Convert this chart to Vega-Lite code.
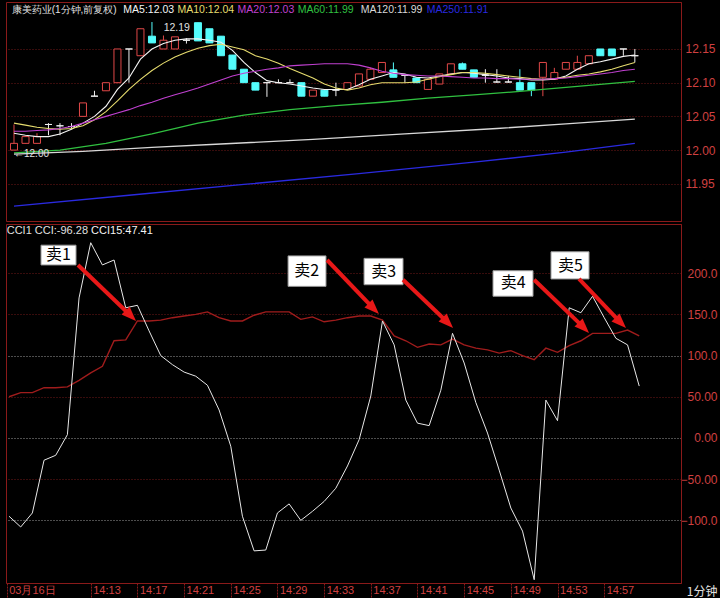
{
 "$schema": "https://vega.github.io/schema/vega-lite/v6.json",
 "background": "#000000",
 "padding": {"left": 5, "top": 1, "right": 2, "bottom": 0},
 "config": {"view": {"stroke": "#8a1a1a"}, "font": "Liberation Sans"},
 "spacing": 1,
 "datasets": {
  "bars": [
   {"t":6,"open":12.00,"high":12.038,"low":12.00,"close":12.01,"ma5":12.025,"ma10":12.04,"ma20":12.028,"cci":-95,"ccima":50},
   {"t":7,"open":12.01,"high":12.02,"low":12.01,"close":12.02,"ma5":12.022,"ma10":12.037,"ma20":12.028,"cci":-108,"ccima":55},
   {"t":8,"open":12.01,"high":12.025,"low":12.01,"close":12.02,"ma5":12.02,"ma10":12.034,"ma20":12.029,"cci":-91,"ccima":55},
   {"t":9,"open":12.038,"high":12.04,"low":12.022,"close":12.038,"ma5":12.02,"ma10":12.032,"ma20":12.03,"cci":-27,"ccima":61},
   {"t":10,"open":12.036,"high":12.04,"low":12.022,"close":12.036,"ma5":12.024,"ma10":12.031,"ma20":12.032,"cci":-21,"ccima":61},
   {"t":11,"open":12.035,"high":12.04,"low":12.031,"close":12.035,"ma5":12.031,"ma10":12.032,"ma20":12.035,"cci":4,"ccima":62},
   {"t":12,"open":12.05,"high":12.07,"low":12.05,"close":12.07,"ma5":12.04,"ma10":12.036,"ma20":12.04,"cci":170,"ccima":70},
   {"t":13,"open":12.08,"high":12.088,"low":12.08,"close":12.08,"ma5":12.05,"ma10":12.045,"ma20":12.045,"cci":237,"ccima":79},
   {"t":14,"open":12.088,"high":12.10,"low":12.088,"close":12.10,"ma5":12.065,"ma10":12.057,"ma20":12.05,"cci":210,"ccima":87},
   {"t":15,"open":12.10,"high":12.15,"low":12.10,"close":12.15,"ma5":12.09,"ma10":12.073,"ma20":12.055,"cci":216,"ccima":118},
   {"t":16,"open":12.15,"high":12.15,"low":12.10,"close":12.15,"ma5":12.107,"ma10":12.09,"ma20":12.06,"cci":158,"ccima":119},
   {"t":17,"open":12.14,"high":12.18,"low":12.14,"close":12.18,"ma5":12.135,"ma10":12.105,"ma20":12.066,"cci":161,"ccima":142},
   {"t":18,"open":12.169,"high":12.19,"low":12.159,"close":12.159,"ma5":12.15,"ma10":12.118,"ma20":12.071,"cci":130,"ccima":142},
   {"t":19,"open":12.15,"high":12.17,"low":12.15,"close":12.163,"ma5":12.158,"ma10":12.129,"ma20":12.077,"cci":100,"ccima":143},
   {"t":20,"open":12.15,"high":12.168,"low":12.15,"close":12.168,"ma5":12.163,"ma10":12.138,"ma20":12.082,"cci":89,"ccima":146},
   {"t":21,"open":12.163,"high":12.166,"low":12.158,"close":12.163,"ma5":12.165,"ma10":12.145,"ma20":12.087,"cci":80,"ccima":148},
   {"t":22,"open":12.189,"high":12.189,"low":12.162,"close":12.162,"ma5":12.165,"ma10":12.151,"ma20":12.092,"cci":75,"ccima":150},
   {"t":23,"open":12.18,"high":12.18,"low":12.159,"close":12.159,"ma5":12.163,"ma10":12.155,"ma20":12.098,"cci":64,"ccima":153},
   {"t":24,"open":12.169,"high":12.169,"low":12.14,"close":12.14,"ma5":12.16,"ma10":12.157,"ma20":12.104,"cci":34,"ccima":146},
   {"t":25,"open":12.141,"high":12.141,"low":12.12,"close":12.12,"ma5":12.148,"ma10":12.153,"ma20":12.11,"cci":-10,"ccima":142},
   {"t":26,"open":12.12,"high":12.12,"low":12.10,"close":12.10,"ma5":12.13,"ma10":12.149,"ma20":12.114,"cci":-95,"ccima":142},
   {"t":27,"open":12.10,"high":12.10,"low":12.089,"close":12.089,"ma5":12.115,"ma10":12.14,"ma20":12.117,"cci":-137,"ccima":149},
   {"t":28,"open":12.10,"high":12.10,"low":12.079,"close":12.10,"ma5":12.103,"ma10":12.135,"ma20":12.12,"cci":-136,"ccima":153},
   {"t":29,"open":12.10,"high":12.105,"low":12.10,"close":12.10,"ma5":12.10,"ma10":12.129,"ma20":12.122,"cci":-91,"ccima":153},
   {"t":30,"open":12.10,"high":12.105,"low":12.10,"close":12.10,"ma5":12.098,"ma10":12.121,"ma20":12.125,"cci":-80,"ccima":153},
   {"t":31,"open":12.10,"high":12.10,"low":12.08,"close":12.08,"ma5":12.095,"ma10":12.114,"ma20":12.126,"cci":-100,"ccima":144},
   {"t":32,"open":12.08,"high":12.089,"low":12.08,"close":12.089,"ma5":12.092,"ma10":12.107,"ma20":12.127,"cci":-89,"ccima":147},
   {"t":33,"open":12.089,"high":12.089,"low":12.08,"close":12.08,"ma5":12.09,"ma10":12.098,"ma20":12.128,"cci":-77,"ccima":141},
   {"t":34,"open":12.089,"high":12.10,"low":12.08,"close":12.089,"ma5":12.09,"ma10":12.092,"ma20":12.128,"cci":-61,"ccima":143},
   {"t":35,"open":12.09,"high":12.10,"low":12.09,"close":12.10,"ma5":12.09,"ma10":12.089,"ma20":12.128,"cci":-34,"ccima":146},
   {"t":36,"open":12.095,"high":12.113,"low":12.095,"close":12.113,"ma5":12.097,"ma10":12.092,"ma20":12.126,"cci":-2,"ccima":148},
   {"t":37,"open":12.105,"high":12.122,"low":12.105,"close":12.12,"ma5":12.105,"ma10":12.097,"ma20":12.122,"cci":51,"ccima":148},
   {"t":38,"open":12.115,"high":12.13,"low":12.115,"close":12.13,"ma5":12.11,"ma10":12.1,"ma20":12.117,"cci":142,"ccima":143},
   {"t":39,"open":12.119,"high":12.13,"low":12.108,"close":12.108,"ma5":12.115,"ma10":12.1,"ma20":12.114,"cci":113,"ccima":124},
   {"t":40,"open":12.111,"high":12.111,"low":12.10,"close":12.111,"ma5":12.113,"ma10":12.1,"ma20":12.112,"cci":46,"ccima":118},
   {"t":41,"open":12.107,"high":12.107,"low":12.10,"close":12.10,"ma5":12.108,"ma10":12.101,"ma20":12.111,"cci":18,"ccima":110},
   {"t":42,"open":12.09,"high":12.105,"low":12.09,"close":12.105,"ma5":12.107,"ma10":12.105,"ma20":12.11,"cci":15,"ccima":114},
   {"t":43,"open":12.098,"high":12.113,"low":12.098,"close":12.113,"ma5":12.11,"ma10":12.109,"ma20":12.11,"cci":58,"ccima":113},
   {"t":44,"open":12.113,"high":12.128,"low":12.113,"close":12.128,"ma5":12.113,"ma10":12.112,"ma20":12.109,"cci":127,"ccima":120},
   {"t":45,"open":12.128,"high":12.13,"low":12.12,"close":12.12,"ma5":12.115,"ma10":12.115,"ma20":12.108,"cci":91,"ccima":113},
   {"t":46,"open":12.119,"high":12.119,"low":12.108,"close":12.108,"ma5":12.114,"ma10":12.115,"ma20":12.107,"cci":43,"ccima":109},
   {"t":47,"open":12.111,"high":12.12,"low":12.10,"close":12.111,"ma5":12.112,"ma10":12.114,"ma20":12.107,"cci":6,"ccima":107},
   {"t":48,"open":12.101,"high":12.12,"low":12.10,"close":12.101,"ma5":12.11,"ma10":12.112,"ma20":12.106,"cci":-39,"ccima":103},
   {"t":49,"open":12.101,"high":12.11,"low":12.10,"close":12.101,"ma5":12.107,"ma10":12.11,"ma20":12.106,"cci":-85,"ccima":106},
   {"t":50,"open":12.10,"high":12.12,"low":12.089,"close":12.089,"ma5":12.106,"ma10":12.108,"ma20":12.105,"cci":-113,"ccima":100},
   {"t":51,"open":12.10,"high":12.10,"low":12.08,"close":12.089,"ma5":12.104,"ma10":12.106,"ma20":12.105,"cci":-172,"ccima":95},
   {"t":52,"open":12.108,"high":12.13,"low":12.08,"close":12.13,"ma5":12.104,"ma10":12.105,"ma20":12.105,"cci":46,"ccima":109},
   {"t":53,"open":12.105,"high":12.122,"low":12.105,"close":12.115,"ma5":12.105,"ma10":12.106,"ma20":12.106,"cci":21,"ccima":104},
   {"t":54,"open":12.12,"high":12.13,"low":12.12,"close":12.13,"ma5":12.11,"ma10":12.108,"ma20":12.107,"cci":158,"ccima":112},
   {"t":55,"open":12.12,"high":12.14,"low":12.12,"close":12.13,"ma5":12.12,"ma10":12.111,"ma20":12.109,"cci":152,"ccima":118},
   {"t":56,"open":12.128,"high":12.14,"low":12.128,"close":12.14,"ma5":12.128,"ma10":12.113,"ma20":12.111,"cci":172,"ccima":127},
   {"t":57,"open":12.15,"high":12.15,"low":12.14,"close":12.14,"ma5":12.131,"ma10":12.116,"ma20":12.113,"cci":146,"ccima":127},
   {"t":58,"open":12.15,"high":12.15,"low":12.14,"close":12.14,"ma5":12.135,"ma10":12.12,"ma20":12.115,"cci":121,"ccima":127},
   {"t":59,"open":12.15,"high":12.15,"low":12.14,"close":12.15,"ma5":12.139,"ma10":12.125,"ma20":12.118,"cci":113,"ccima":131},
   {"t":60,"open":12.14,"high":12.15,"low":12.13,"close":12.14,"ma5":12.141,"ma10":12.13,"ma20":12.12,"cci":63,"ccima":124}
  ],
  "slow": [
   {"t":6,"key":"ma60","v":11.996},{"t":10,"key":"ma60","v":12.0},{"t":14,"key":"ma60","v":12.01},{"t":18,"key":"ma60","v":12.024},{"t":22,"key":"ma60","v":12.04},{"t":26,"key":"ma60","v":12.052},{"t":30,"key":"ma60","v":12.06},{"t":34,"key":"ma60","v":12.066},{"t":38,"key":"ma60","v":12.071},{"t":42,"key":"ma60","v":12.077},{"t":46,"key":"ma60","v":12.082},{"t":50,"key":"ma60","v":12.087},{"t":54,"key":"ma60","v":12.093},{"t":58,"key":"ma60","v":12.099},{"t":60,"key":"ma60","v":12.102},
   {"t":6,"key":"ma120","v":11.994},{"t":12,"key":"ma120","v":11.998},{"t":18,"key":"ma120","v":12.004},{"t":24,"key":"ma120","v":12.009},{"t":32,"key":"ma120","v":12.016},{"t":40,"key":"ma120","v":12.024},{"t":48,"key":"ma120","v":12.032},{"t":54,"key":"ma120","v":12.039},{"t":60,"key":"ma120","v":12.046},
   {"t":6,"key":"ma250","v":11.917},{"t":16,"key":"ma250","v":11.933},{"t":26,"key":"ma250","v":11.949},{"t":36,"key":"ma250","v":11.965},{"t":46,"key":"ma250","v":11.982},{"t":54,"key":"ma250","v":11.997},{"t":60,"key":"ma250","v":12.01}
  ],
  "hdr1": [
   {"t":5.8,"v":12.2075,"text":"康美药业(1分钟,前复权)","key":"title"},
   {"t":15.51,"v":12.2075,"text":"MA5:12.03","key":"ma5"},
   {"t":20.22,"v":12.2075,"text":"MA10:12.04","key":"ma10"},
   {"t":25.45,"v":12.2075,"text":"MA20:12.03","key":"ma20"},
   {"t":30.68,"v":12.2075,"text":"MA60:11.99","key":"ma60"},
   {"t":36.16,"v":12.2075,"text":"MA120:11.99","key":"ma120"},
   {"t":41.9,"v":12.2075,"text":"MA250:11.91","key":"ma250"},
   {"t":19.02,"v":12.181,"text":"12.19","key":"title"},
   {"t":6.0,"v":11.994,"text":"←12.00","key":"title"}
  ],
  "hdr2": [
   {"t":5.8,"v":251,"text":"CCI1  CCI:-96.28","key":"cci"},
   {"t":13.03,"v":251,"text":"CCI15:47.41","key":"hdr"}
  ],
  "boxes": [
   {"label":"卖1","t1":8.74,"t2":11.74,"c1":210,"c2":234,"tc":10.24,"cc":222},
   {"label":"卖2","t1":29.91,"t2":33.16,"c1":184,"c2":221,"tc":31.5,"cc":203},
   {"label":"卖3","t1":36.42,"t2":39.76,"c1":186,"c2":218,"tc":38.1,"cc":202},
   {"label":"卖4","t1":47.47,"t2":50.9,"c1":172,"c2":203,"tc":49.2,"cc":188},
   {"label":"卖5","t1":52.44,"t2":55.7,"c1":193,"c2":226,"tc":54.1,"cc":209}
  ],
  "arrows": [
   {"t1":11.91,"c1":210,"t2":16.28,"c2":150.5,"tt":16.88,"ct":142},
   {"t1":33.25,"c1":216,"t2":37.1,"c2":159,"tt":37.7,"ct":150.5},
   {"t1":39.76,"c1":192,"t2":43.45,"c2":142,"tt":44.05,"ct":133.5},
   {"t1":50.99,"c1":192,"t2":55.1,"c2":136,"tt":55.7,"ct":127.4},
   {"t1":54.84,"c1":193,"t2":58.27,"c2":142,"tt":58.87,"ct":133.5}
  ]
 },
 "vconcat": [
  {
   "width": 675,
   "height": 219,
   "layer": [
    {
     "data": {"name": "bars"},
     "mark": {"type": "rule", "strokeWidth": 1},
     "encoding": {
      "x": {"field": "t", "type": "quantitative", "scale": {"domain": [5.74, 63.58], "nice": false, "zero": false}, "axis": null},
      "y": {"field": "low", "type": "quantitative", "scale": {"domain": [11.8948, 12.2197], "nice": false, "zero": false},
       "axis": {"orient": "right", "values": [11.95, 12, 12.05, 12.1, 12.15], "format": ".2f", "labelColor": "#d04040", "labelFontSize": 12, "labelPadding": 4, "ticks": false, "grid": true, "gridColor": "#701818", "gridDash": [1, 2], "domainColor": "#8a1a1a", "title": null}},
      "y2": {"field": "high"},
      "stroke": {"condition": [{"test": "datum.close > datum.open", "value": "#e04848"}, {"test": "datum.close < datum.open", "value": "#54fcfc"}], "value": "#f0f0f0"}
     }
    },
    {
     "data": {"name": "bars"},
     "mark": {"type": "bar", "width": 7, "strokeWidth": 1},
     "encoding": {
      "x": {"field": "t", "type": "quantitative"},
      "y": {"field": "open", "type": "quantitative"},
      "y2": {"field": "close"},
      "fill": {"condition": [{"test": "datum.close > datum.open", "value": "#000000"}, {"test": "datum.close < datum.open", "value": "#54fcfc"}], "value": "#f0f0f0"},
      "stroke": {"condition": [{"test": "datum.close > datum.open", "value": "#e04848"}, {"test": "datum.close < datum.open", "value": "#54fcfc"}], "value": "#f0f0f0"}
     }
    },
    {
     "data": {"name": "slow"},
     "mark": {"type": "line", "strokeWidth": 1.3},
     "encoding": {
      "x": {"field": "t", "type": "quantitative"},
      "y": {"field": "v", "type": "quantitative"},
      "color": {"field": "key", "type": "nominal", "legend": null,
       "scale": {"domain": ["title", "ma5", "ma10", "ma20", "ma60", "ma120", "ma250"], "range": ["#e0e0e0", "#f4f4f4", "#e6dc6e", "#c040d0", "#30c040", "#d8d8d8", "#2a2ae0"]}}
     }
    },
    {
     "data": {"name": "bars"},
     "transform": [{"fold": ["ma5", "ma10", "ma20"], "as": ["key", "v"]}],
     "mark": {"type": "line", "strokeWidth": 1.1},
     "encoding": {
      "x": {"field": "t", "type": "quantitative"},
      "y": {"field": "v", "type": "quantitative"},
      "color": {"field": "key", "type": "nominal", "legend": null}
     }
    },
    {
     "data": {"name": "hdr1"},
     "transform": [{"filter": "datum.key !== 'title' || datum.t > 7"}],
     "mark": {"type": "text", "align": "left", "baseline": "middle", "fontSize": 10.5, "font": "Liberation Sans"},
     "encoding": {
      "x": {"field": "t", "type": "quantitative"},
      "y": {"field": "v", "type": "quantitative"},
      "text": {"field": "text"},
      "color": {"field": "key", "type": "nominal", "legend": null}
     }
    },
    {
     "data": {"name": "hdr1"},
     "transform": [{"filter": "datum.key === 'title' && datum.t < 7"}],
     "mark": {"type": "text", "align": "left", "baseline": "middle", "fontSize": 10, "font": "Liberation Sans"},
     "encoding": {
      "x": {"field": "t", "type": "quantitative"},
      "y": {"field": "v", "type": "quantitative"},
      "text": {"field": "text"},
      "color": {"field": "key", "type": "nominal", "legend": null}
     }
    }
   ]
  },
  {
   "width": 675,
   "height": 359,
   "layer": [
    {
     "data": {"name": "bars"},
     "mark": {"type": "line", "color": "#a01c1c", "strokeWidth": 1.4},
     "encoding": {
      "x": {"field": "t", "type": "quantitative", "scale": {"domain": [5.74, 63.58], "nice": false, "zero": false},
       "axis": {"values": [5.8, 13, 17, 21, 25, 29, 33, 37, 41, 45, 49, 53, 57], "labelExpr": "datum.value < 10 ? '03月16日' : '14:' + datum.value", "labelAlign": "left", "labelBaseline": "top", "labelColor": "#d04040", "labelFontSize": 11, "ticks": true, "tickColor": "#8a1a1a", "tickSize": 14, "tickDash": [2, 1], "labelPadding": -13, "labelOffset": 2, "domain": false, "grid": false, "title": null, "labelFlush": false, "labelOverlap": false}},
      "y": {"field": "ccima", "type": "quantitative", "scale": {"domain": [-176, 259.7], "nice": false, "zero": false},
       "axis": {"orient": "right", "values": [-100, -50, 0, 50, 100, 150, 200], "labelExpr": "datum.value === 0 ? '0.00' : (abs(datum.value) >= 100 ? format(datum.value, '.1f') : format(datum.value, '.2f'))", "labelAlign": "right", "labelPadding": 36, "ticks": false, "labelColor": "#d04040", "labelFontSize": 12, "grid": true, "gridDash": [1, 2], "gridColor": {"condition": {"test": "datum.value === 100 || datum.value === 0 || datum.value === -100", "value": "#9a9a9a"}, "value": "#701818"}, "domainColor": "#8a1a1a", "title": "1分钟", "titleAngle": 0, "titleAlign": "right", "titleBaseline": "middle", "titleX": 36, "titleY": 367, "titleColor": "#e0e0e0", "titleFontSize": 12, "titleFontWeight": "normal", "titleFont": "Noto Sans CJK SC"}}
     }
    },
    {
     "data": {"name": "bars"},
     "mark": {"type": "line", "color": "#e8e8e8", "strokeWidth": 1},
     "encoding": {
      "x": {"field": "t", "type": "quantitative"},
      "y": {"field": "cci", "type": "quantitative"}
     }
    },
    {
     "data": {"name": "boxes"},
     "mark": {"type": "rect", "fill": "#ffffff", "stroke": "#999999", "strokeWidth": 1},
     "encoding": {
      "x": {"field": "t1", "type": "quantitative"},
      "x2": {"field": "t2"},
      "y": {"field": "c1", "type": "quantitative"},
      "y2": {"field": "c2"}
     }
    },
    {
     "data": {"name": "boxes"},
     "mark": {"type": "text", "font": "Noto Sans CJK SC", "fontSize": 16, "color": "#000000", "align": "center", "baseline": "middle"},
     "encoding": {
      "x": {"field": "tc", "type": "quantitative"},
      "y": {"field": "cc", "type": "quantitative"},
      "text": {"field": "label"}
     }
    },
    {
     "data": {"name": "arrows"},
     "mark": {"type": "rule", "color": "#e81818", "strokeWidth": 4},
     "encoding": {
      "x": {"field": "t1", "type": "quantitative"},
      "y": {"field": "c1", "type": "quantitative"},
      "x2": {"field": "t2"},
      "y2": {"field": "c2"}
     }
    },
    {
     "data": {"name": "arrows"},
     "mark": {"type": "point", "shape": "M0,0L-1,2.6L1,2.6Z", "size": 130, "angle": 135, "filled": true, "color": "#e81818", "opacity": 1},
     "encoding": {
      "x": {"field": "tt", "type": "quantitative"},
      "y": {"field": "ct", "type": "quantitative"}
     }
    },
    {
     "data": {"name": "hdr2"},
     "mark": {"type": "text", "align": "left", "baseline": "middle", "fontSize": 11, "font": "Liberation Sans"},
     "encoding": {
      "x": {"field": "t", "type": "quantitative"},
      "y": {"field": "v", "type": "quantitative"},
      "text": {"field": "text"},
      "color": {"field": "key", "type": "nominal", "legend": null, "scale": {"domain": ["cci", "hdr"], "range": ["#e0e0e0", "#c82828"]}}
     }
    }
   ]
  }
 ]
}
